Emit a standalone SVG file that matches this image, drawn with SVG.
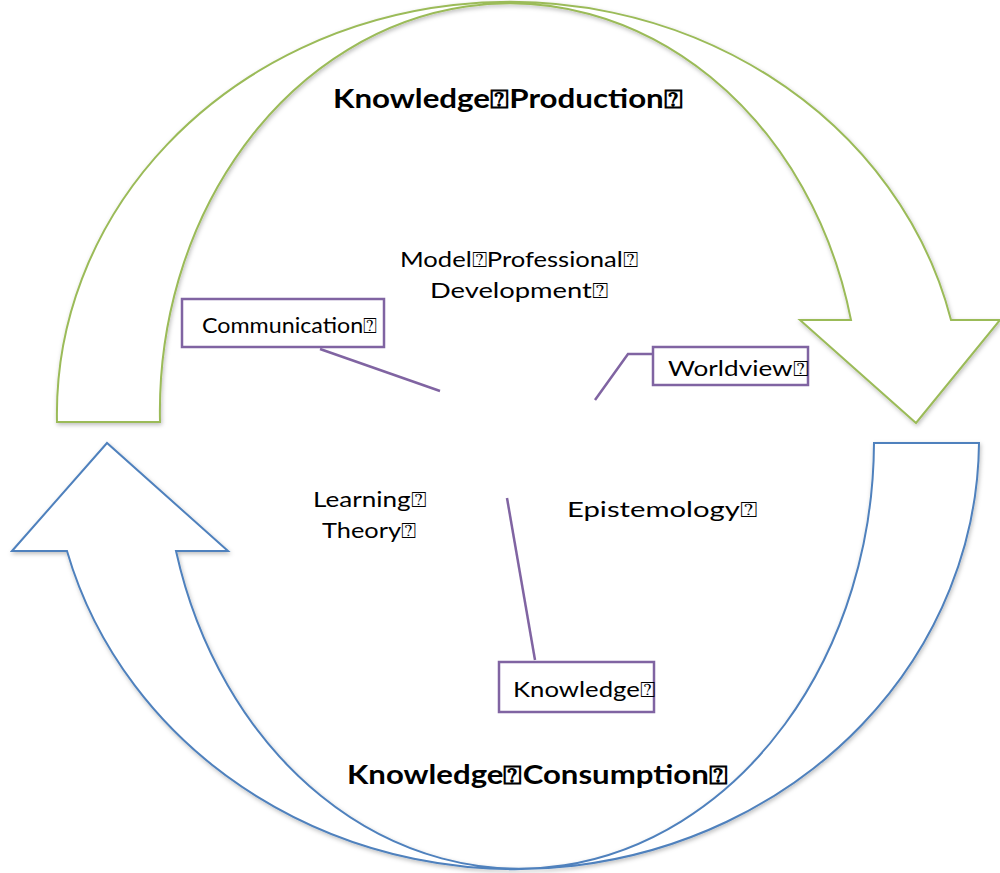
<svg xmlns="http://www.w3.org/2000/svg" width="1000" height="873" viewBox="0 0 1000 873">
<defs>
<filter id="sh" x="-5%" y="-5%" width="110%" height="110%">
<feDropShadow dx="1" dy="2" stdDeviation="2" flood-color="#000" flood-opacity="0.25"/>
</filter>
<style>
.green{fill:#fff;stroke:#9BBB59;stroke-width:2;stroke-linejoin:miter}
.blue{fill:#fff;stroke:#4F81BD;stroke-width:2;stroke-linejoin:miter}
.box{fill:#fff;stroke:#8064A2;stroke-width:2.5}
.conn{fill:none;stroke:#8064A2;stroke-width:2.5}
text{font-family:Lato,"Open Sans","DejaVu Sans",sans-serif;fill:#000}
.t{font-size:22px}
.title{font-size:26px;font-weight:bold}
</style>
</defs>
<rect width="1000" height="873" fill="#fff"/>
<g id="production-arrow" filter="url(#sh)">
<path class="green" d="M 57,422 A 453 412 0 0 1 951,320 L 1000,320 L 916,423 L 800,320 L 851,320 A 350 408 0 0 0 160,422 Z"/>
</g>
<g id="consumption-arrow" filter="url(#sh)">
<path class="blue" d="M 12,551 L 107,443 L 228,551 L 176,551 A 355 428 0 0 0 874,443 L 979,443 A 464 430 0 0 1 67,551 Z"/>
</g>
<g id="connectors">
<line class="conn" x1="320" y1="349" x2="440" y2="391"/>
<polyline class="conn" points="653,354 628,354 595,400"/>
<line class="conn" x1="535" y1="660" x2="507" y2="498"/>
</g>
<g id="title-production">
<text class="title" x="333" y="108" textLength="350" lengthAdjust="spacingAndGlyphs">Knowledge⍰Production⍰</text>
</g>
<g id="title-consumption">
<text class="title" x="347" y="784" textLength="381" lengthAdjust="spacingAndGlyphs">Knowledge⍰Consumption⍰</text>
</g>
<g id="model-pd">
<text class="t" x="400" y="267" textLength="238" lengthAdjust="spacingAndGlyphs">Model⍰Professional⍰</text>
<text class="t" x="430" y="298" textLength="178" lengthAdjust="spacingAndGlyphs">Development⍰</text>
</g>
<g id="communication">
<rect class="box" x="182" y="299" width="202" height="48"/>
<text class="t" x="202" y="333" textLength="175" lengthAdjust="spacingAndGlyphs">Communication⍰</text>
</g>
<g id="worldview">
<rect class="box" x="653" y="347" width="155" height="38"/>
<text class="t" x="668" y="376" textLength="140" lengthAdjust="spacingAndGlyphs">Worldview⍰</text>
</g>
<g id="learning-theory">
<text class="t" x="313" y="507" textLength="113" lengthAdjust="spacingAndGlyphs">Learning⍰</text>
<text class="t" x="322" y="538" textLength="94" lengthAdjust="spacingAndGlyphs">Theory⍰</text>
</g>
<g id="epistemology">
<text class="t" x="567" y="517" textLength="190" lengthAdjust="spacingAndGlyphs">Epistemology⍰</text>
</g>
<g id="knowledge">
<rect class="box" x="499" y="662" width="155" height="50"/>
<text class="t" x="513" y="697" textLength="142" lengthAdjust="spacingAndGlyphs">Knowledge⍰</text>
</g>
</svg>
